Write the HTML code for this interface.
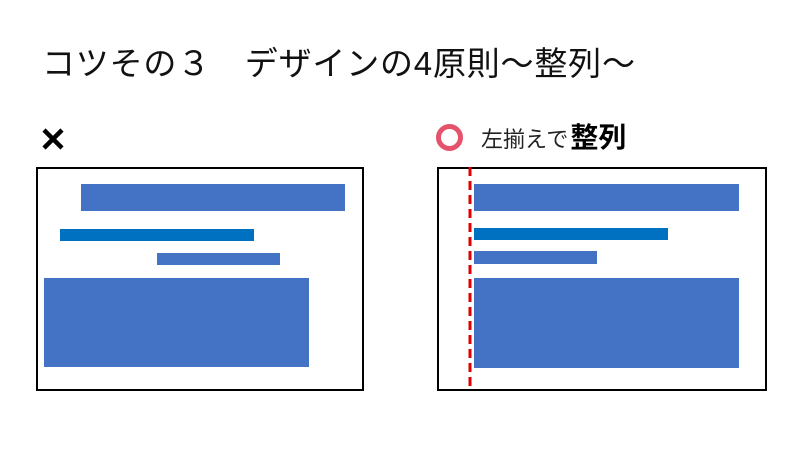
<!DOCTYPE html>
<html><head><meta charset="utf-8"><style>
body{margin:0;width:800px;height:450px;background:#fff;overflow:hidden;position:relative;font-family:"Liberation Sans","Noto Sans CJK JP",sans-serif;}
.a{position:absolute}
.b{position:absolute;background:#4472c4}
.d{position:absolute;background:#0070c0}
</style></head><body>
<div class="a" style="left:42px;top:42px;font-size:33px;letter-spacing:0.8px;line-height:44px;color:#111;white-space:nowrap">コツその３　デザインの4原則～整列～</div>
<svg class="a" style="left:40px;top:126px" width="26" height="26"><path d="M4 4L22 22M22 4L4 22" stroke="#000" stroke-width="4.5"/></svg>
<div class="a" style="left:436px;top:124px;width:17px;height:17px;border:5px solid #e5526c;border-radius:50%"></div>
<div class="a" style="left:481px;top:122px;font-size:22px;line-height:32px;color:#222;white-space:nowrap">左揃えで<b style="color:#000;font-size:28px;margin-left:2px">整列</b></div>
<div class="a" style="left:36px;top:167px;width:324px;height:220px;border:2px solid #000"></div>
<div class="b" style="left:81px;top:184px;width:264px;height:27px"></div>
<div class="d" style="left:60px;top:229px;width:194px;height:12px"></div>
<div class="b" style="left:157px;top:253px;width:123px;height:12px"></div>
<div class="b" style="left:44px;top:278px;width:265px;height:89px"></div>
<div class="a" style="left:437px;top:167px;width:326px;height:220px;border:2px solid #000"></div>
<div class="b" style="left:474px;top:184px;width:265px;height:27px"></div>
<div class="d" style="left:474px;top:228px;width:194px;height:12px"></div>
<div class="b" style="left:474px;top:251px;width:123px;height:13px"></div>
<div class="b" style="left:474px;top:278px;width:265px;height:90px"></div>
<svg class="a" style="left:466px;top:167px" width="8" height="224"><line x1="4" y1="0" x2="4" y2="224" stroke="#e00000" stroke-width="3" stroke-dasharray="9,5"/></svg>
</body></html>
